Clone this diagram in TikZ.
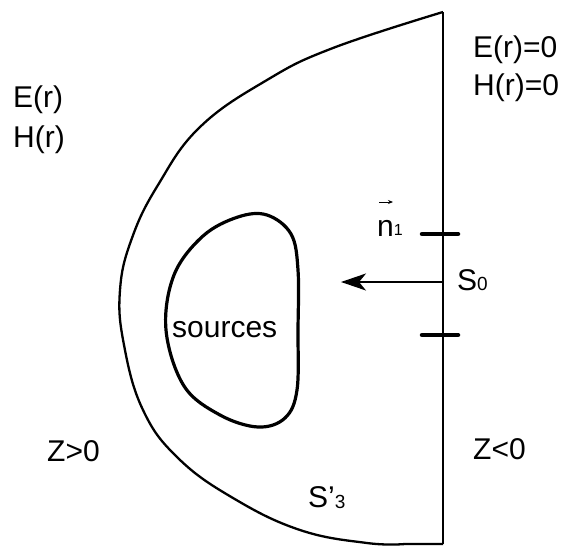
\documentclass[tikz,border=0pt]{standalone}
\usepackage{fontspec}
\setmainfont{Liberation Sans}
\usetikzlibrary{arrows.meta}
\begin{document}
\begin{tikzpicture}[x=1pt,y=-1pt,
  lbl/.style={inner sep=0pt,font=\fontsize{30}{35}\selectfont},
  outline/.style={line width=2.3pt,line join=round},
  blob/.style={line width=3.2pt,line join=round},
  tick/.style={line width=4.5pt,line cap=round}]
\useasboundingbox (0,0) rectangle (572,546);
% vertical plane
\coordinate (top) at (443,12);
\coordinate (bot) at (443,544);
\draw[outline] (top) -- (bot);
% outer surface
\draw[outline] plot[smooth,tension=0.7] coordinates {(443,12) (333,48) (267,80) (200,127) (158,185) (132,238) (120,290) (124,345) (143,410) (178,458) (233,498) (300,530) (367,543) (405,544)} -- (bot);
% sources blob
\draw[blob] plot[smooth cycle,tension=0.6] coordinates {(267,215) (291,234) (298,270) (298,330) (297,390) (285,418) (258,427) (220,415) (184,386) (166,330) (174,275) (203,236) (238,217)};
% ticks
\coordinate (t1a) at (422,234); \coordinate (t1b) at (458,234);
\coordinate (t2a) at (422,335); \coordinate (t2b) at (458,335);
\draw[tick] (t1a) -- (t1b);
\draw[tick] (t2a) -- (t2b);
% normal arrow
\coordinate (na) at (443,282); \coordinate (nb) at (341,282);
\draw[line width=2pt,-{Stealth[length=25pt,width=17pt,inset=7pt]}] (na) -- (nb);
% labels
\node[lbl,anchor=base west] (e1) at (13,107) {E(r)};
\node[lbl,anchor=base west] (h1) at (13,147) {H(r)};
\node[lbl,anchor=base west] (e2) at (473,57) {E(r)=0};
\node[lbl,anchor=base west] (h2) at (473,95) {H(r)=0};
\node[lbl,anchor=base west] (n1) at (377,236) {n\raisebox{1pt}{\fontsize{16}{16}\selectfont 1}};
\coordinate (va) at (379,202); \coordinate (vb) at (393,202);
\draw[line width=0.9pt,-{Stealth[length=5pt,width=4pt]}] (va) -- (vb);
\node[lbl,anchor=base west] (s0) at (457,290) {S{\fontsize{19}{19}\selectfont 0}};
\node[lbl,anchor=base west] (src) at (172,337) {sources};
\node[lbl,anchor=base west] (zp) at (47,461) {Z>0};
\node[lbl,anchor=base west] (zm) at (473,459) {Z<0};
\node[lbl,anchor=base west] (s3) at (308,507) {S’\raisebox{-1pt}{\fontsize{19}{19}\selectfont 3}};
\end{tikzpicture}
\end{document}
